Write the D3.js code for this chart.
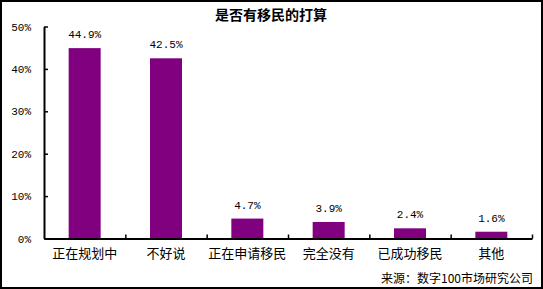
<!DOCTYPE html>
<html>
<head>
<meta charset="utf-8">
<script src="https://cdn.jsdelivr.net/npm/d3@7"></script>
<style>
  body { margin: 0; background: #fff; }
  svg { display: block; }
</style>
</head>
<body>
<svg width="543" height="289"></svg>
<script>
const categories = ['正在规划中', '不好说', '正在申请移民', '完全没有', '已成功移民', '其他'];
const values = [44.9, 42.5, 4.7, 3.9, 2.4, 1.6];
const yTicks = [0, 10, 20, 30, 40, 50];

const CN = "'Noto Sans CJK SC', sans-serif";
const NUM = "'Liberation Mono', monospace";

const svg = d3.select('svg');

// frame
svg.append('rect')
  .attr('x', 1).attr('y', 1)
  .attr('width', 541).attr('height', 287)
  .attr('fill', '#fff')
  .attr('stroke', '#000')
  .attr('stroke-width', 2);

svg.append('text')
  .text('是否有移民的打算')
  .attr('x', 271).attr('y', 20)
  .attr('text-anchor', 'middle')
  .attr('font-family', CN)
  .attr('font-size', 14)
  .attr('font-weight', 'bold');

const plotLeft = 44, plotRight = 532, plotTop = 26.5, plotBottom = 238.5;

const x = d3.scaleBand().domain(categories).range([plotLeft, plotRight]).paddingInner(0).paddingOuter(0);
const xEdge = d3.scaleLinear().domain([0, categories.length]).range([plotLeft, plotRight]);
const y = d3.scaleLinear().domain([0, 50]).range([plotBottom, plotTop]);

// y axis
const yAxis = svg.append('g')
  .attr('transform', `translate(${plotLeft},0)`)
  .call(d3.axisLeft(y).tickValues(yTicks).tickFormat((d) => d + '%').tickSize(-4).tickSizeOuter(0).tickPadding(13));
yAxis.select('.domain').attr('stroke-width', 2);
yAxis.selectAll('line').attr('stroke-width', 1.5);
yAxis.selectAll('text').attr('font-family', NUM).attr('font-size', 11).attr('fill', '#000');

// bars
const barW = 32;
svg.selectAll('.bar')
  .data(values)
  .enter()
  .append('rect')
  .classed('bar', true)
  .attr('x', (d, i) => x(categories[i]) + x.bandwidth() / 2 - barW / 2)
  .attr('y', (d) => y(d))
  .attr('width', barW)
  .attr('height', (d) => plotBottom - y(d))
  .attr('fill', '#800080');

// value labels
svg.selectAll('.label')
  .data(values)
  .enter()
  .append('text')
  .classed('label', true)
  .text((d) => d.toFixed(1) + '%')
  .attr('x', (d, i) => x(categories[i]) + x.bandwidth() / 2)
  .attr('y', (d) => y(d) - 10)
  .attr('text-anchor', 'middle')
  .attr('font-family', NUM)
  .attr('font-size', 11);

// x axis line + edge ticks
const xAxis = svg.append('g')
  .attr('transform', `translate(0,${plotBottom})`)
  .call(d3.axisBottom(xEdge).tickValues(d3.range(1, categories.length + 1)).tickFormat('').tickSize(-4).tickSizeOuter(0));
xAxis.select('.domain').attr('stroke-width', 2);
xAxis.selectAll('line').attr('stroke-width', 1.5);

// category labels
const xLab = svg.append('g')
  .attr('transform', `translate(0,${plotBottom})`)
  .call(d3.axisBottom(x).tickSize(0).tickPadding(10));
xLab.select('.domain').remove();
xLab.selectAll('text').attr('font-family', CN).attr('font-size', 13).attr('fill', '#000');

svg.append('text')
  .text('来源：数字100市场研究公司')
  .attr('x', 533).attr('y', 283)
  .attr('text-anchor', 'end')
  .attr('font-family', CN)
  .attr('font-size', 12);
</script>
</body>
</html>
